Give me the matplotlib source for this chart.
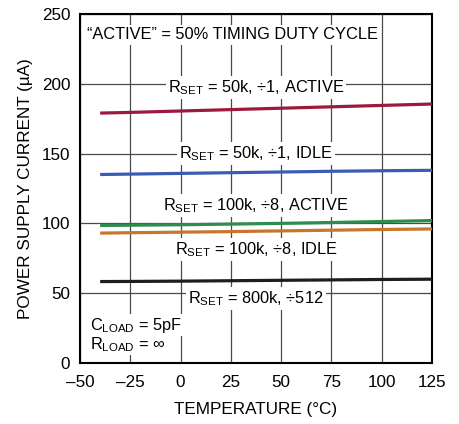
import matplotlib
matplotlib.use('Agg')
import matplotlib.pyplot as plt

plt.rcParams['font.family'] = ['Liberation Sans', 'DejaVu Sans']
plt.rcParams['mathtext.fontset'] = 'custom'
plt.rcParams['mathtext.rm'] = 'Liberation Sans'
plt.rcParams['mathtext.default'] = 'regular'

# supply current vs temperature, one curve per configuration
temps = [-40, -25, 0, 25, 50, 75, 100, 125]
i_50k_active = [179, 179.5, 180.5, 181.5, 182.5, 183.5, 184.5, 185.5]
i_50k_idle = [135, 135.3, 135.8, 136.3, 136.8, 137.3, 137.7, 138]
i_100k_active = [98.5, 98.7, 99, 99.5, 100, 100.6, 101.3, 102]
i_100k_idle = [93, 93.3, 93.7, 94.1, 94.6, 95.1, 95.6, 96]
i_800k = [58.3, 58.4, 58.6, 58.9, 59.2, 59.5, 59.8, 60]

series = [
    (i_50k_active, '#9c1a3c', r'R$_{SET}$ = 50k, ÷1, ACTIVE', 197),
    (i_50k_idle, '#3b5cb4', r'R$_{SET}$ = 50k, ÷1, IDLE', 150),
    (i_100k_active, '#2e8c4c', r'R$_{SET}$ = 100k, ÷8, ACTIVE', 113),
    (i_100k_idle, '#c8762c', r'R$_{SET}$ = 100k, ÷8, IDLE', 81),
    (i_800k, '#1e1e1e', r'R$_{SET}$ = 800k, ÷512', 46),
]

fs = 11.8

fig = plt.figure(figsize=(4.6, 4.24), dpi=100)
ax = fig.add_axes([0.174, 0.144, 0.765, 0.823])

for vals, color, label, ly in series:
    ax.plot(temps, vals, color=color, lw=2.3, solid_capstyle='butt', zorder=3)
    ax.text(37.5, ly, label, ha='center', va='center', fontsize=fs, zorder=4,
            bbox=dict(facecolor='white', edgecolor='none', pad=1.5))

ax.text(-46.5, 235, '“ACTIVE” = 50% TIMING DUTY CYCLE', ha='left', va='center',
        fontsize=fs, zorder=4, bbox=dict(facecolor='white', edgecolor='none', pad=1.5))
ax.text(-45, 27, r'C$_{LOAD}$ = 5pF', ha='left', va='center', fontsize=fs, zorder=4,
        bbox=dict(facecolor='white', edgecolor='none', pad=1))
ax.text(-45, 13, r'R$_{LOAD}$ = ∞', ha='left', va='center', fontsize=fs, zorder=4,
        bbox=dict(facecolor='white', edgecolor='none', pad=1))

ax.set_xlim(-50, 125)
ax.set_ylim(0, 250)
ax.set_xticks(range(-50, 126, 25))
ax.set_xticklabels(['–50', '–25', '0', '25', '50', '75', '100', '125'])
ax.set_yticks(range(0, 251, 50))
ax.tick_params(length=0, labelsize=fs + 0.5)
ax.tick_params(axis='x', pad=9)
ax.tick_params(axis='y', pad=7)
ax.grid(True, color='#4a4a4a', lw=0.9, zorder=1)
ax.set_axisbelow(True)
for s in ax.spines.values():
    s.set_linewidth(1.5)
ax.set_xlabel('TEMPERATURE (°C)', fontsize=fs + 0.5, labelpad=8)
ax.set_ylabel('POWER SUPPLY CURRENT (µA)', fontsize=fs + 0.5, labelpad=6)

fig.savefig('out.png', dpi=100)
